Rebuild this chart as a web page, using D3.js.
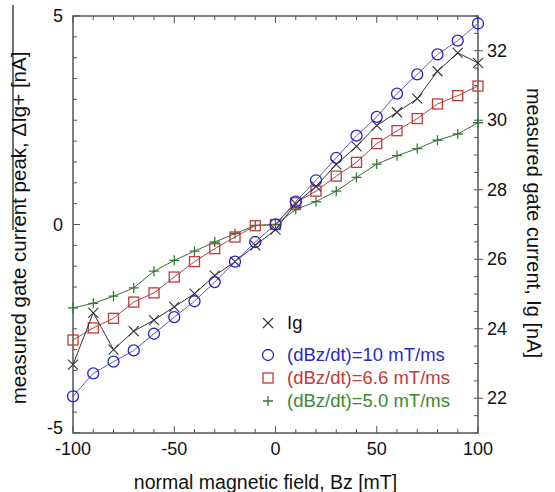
<!DOCTYPE html>
<head>
    <meta charset="utf-8">
    <title>Gate current vs Bz</title>
    <style>
        body { margin: 0; background: #fff; }
        text { font-family: "Liberation Sans", Arial, sans-serif; }
    </style>
</head>
<body>
<div id="chart"></div>
<script src="https://d3js.org/d3.v7.min.js"></script>
<script>

// values
var bz = [-100, -90, -80, -70, -60, -50, -40, -30, -20, -10, 0, 10, 20, 30, 40, 50, 60, 70, 80, 90, 100];
var peak10 = [-4.12, -3.57, -3.29, -3.02, -2.62, -2.22, -1.84, -1.38, -0.89, -0.42, 0, 0.55, 1.06, 1.60, 2.13, 2.58, 3.14, 3.60, 4.08, 4.41, 4.82];
var peak66 = [-2.77, -2.48, -2.25, -1.86, -1.64, -1.26, -0.89, -0.58, -0.30, -0.03, 0, 0.52, 0.80, 1.16, 1.49, 1.94, 2.25, 2.54, 2.89, 3.09, 3.32];
var peak50 = [-2.00, -1.89, -1.72, -1.52, -1.12, -0.86, -0.64, -0.42, -0.22, -0.02, 0, 0.36, 0.55, 0.80, 1.13, 1.45, 1.65, 1.82, 2.02, 2.17, 2.44];
var ig = [22.97, 24.46, 23.40, 23.93, 24.25, 24.63, 25.01, 25.53, 25.93, 26.40, 26.85, 27.60, 28.10, 28.73, 29.25, 29.85, 30.23, 30.62, 31.41, 31.94, 31.65];

var xTicks = [-100, -50, 0, 50, 100];
var leftTicks = [-5, 0, 5];
var rightTicks = [22, 24, 26, 28, 30, 32];

var legendLabels = ["Ig", "(dBz/dt)=10 mT/ms", "(dBz/dt)=6.6 mT/ms", "(dBz/dt)=5.0 mT/ms"];

var width = 555, height = 492;
var plot = {left: 73, right: 478, top: 16, bottom: 433};

var svg = d3.select("#chart").append("svg")
    .attr("width", width)
    .attr("height", height);

var x = d3.scaleLinear().domain([-100, 100]).range([plot.left, plot.right]);
var yL = d3.scaleLinear().domain([-5, 5]).range([plot.bottom, plot.top]);
var yR = d3.scaleLinear().domain([21, 33]).range([plot.bottom, plot.top]);

var axisColor = "#555";

// frame
svg.append("rect")
    .attr("x", plot.left).attr("y", plot.top)
    .attr("width", plot.right - plot.left).attr("height", plot.bottom - plot.top)
    .attr("fill", "none").attr("stroke", axisColor).attr("stroke-width", 1.5);

// ticks pointing inward, drawn by hand on the frame
var g = svg.append("g").attr("stroke", axisColor).attr("stroke-width", 1);

d3.range(-100, 101, 10).forEach(function(v) {
    var len = (v % 50 === 0) ? 7 : 4;
    g.append("line").attr("x1", x(v)).attr("x2", x(v)).attr("y1", plot.bottom).attr("y2", plot.bottom - len);
    g.append("line").attr("x1", x(v)).attr("x2", x(v)).attr("y1", plot.top).attr("y2", plot.top + len);
});
d3.range(-5, 5.01, 0.5).forEach(function(v) {
    var len = (Math.abs(v % 5) < 1e-6) ? 7 : 4;
    g.append("line").attr("x1", plot.left).attr("x2", plot.left + len).attr("y1", yL(v)).attr("y2", yL(v));
});
d3.range(21, 33.01, 0.5).forEach(function(v) {
    var major = Math.abs(v % 2) < 1e-6;
    g.append("line").attr("x1", plot.right - 4).attr("x2", plot.right + (major ? 5 : 0)).attr("y1", yR(v)).attr("y2", yR(v));
});

// tick labels
var lab = svg.append("g").attr("font-size", 18).attr("fill", "#111");
xTicks.forEach(function(v) {
    lab.append("text").attr("x", x(v)).attr("y", 455).attr("text-anchor", "middle").text(v);
});
leftTicks.forEach(function(v) {
    lab.append("text").attr("x", 63).attr("y", yL(v) + (v === -5 ? 1 : 6))
        .attr("text-anchor", "end").text(v);
});
rightTicks.forEach(function(v) {
    lab.append("text").attr("x", 487).attr("y", yR(v) + 6).text(v);
});

// axis titles
svg.append("text")
    .attr("x", x(0) - 10).attr("y", 489)
    .attr("text-anchor", "middle").attr("font-size", 19.5).attr("fill", "#111")
    .text("normal magnetic field, Bz [mT]");

svg.append("text")
    .attr("transform", "translate(26,228) rotate(-90)")
    .attr("text-anchor", "middle").attr("font-size", 20.5).attr("fill", "#111")
    .text("measured gate current peak, \u0394Ig+ [nA]");
svg.append("line")
    .attr("x1", 13).attr("x2", 13).attr("y1", 5).attr("y2", 230)
    .attr("stroke", "#111").attr("stroke-width", 1.2);

svg.append("text")
    .attr("transform", "translate(527,223) rotate(90)")
    .attr("text-anchor", "middle").attr("font-size", 20).attr("fill", "#111")
    .text("measured gate current, Ig [nA]");

// series
var series = [
    {vals: peak50, y: yL, line: "#3d6b3d", mark: "#2e7d2e", shape: "plus"},
    {vals: peak66, y: yL, line: "#a04848", mark: "#c0393b", shape: "square"},
    {vals: ig, y: yR, line: "#333", mark: "#333", shape: "cross"},
    {vals: peak10, y: yL, line: "#6060a8", mark: "#2424c8", shape: "circle"}
];

function drawMark(sel, shape, color, cx, cy) {
    if (shape === "circle") {
        sel.append("circle").attr("cx", cx).attr("cy", cy).attr("r", 5.5)
            .attr("fill", "none").attr("stroke", color).attr("stroke-width", 1.3);
    } else if (shape === "square") {
        sel.append("rect").attr("x", cx - 5).attr("y", cy - 5).attr("width", 10).attr("height", 10)
            .attr("fill", "none").attr("stroke", color).attr("stroke-width", 1.3);
    } else if (shape === "plus") {
        sel.append("path").attr("d", "M" + (cx - 5) + "," + cy + "h10M" + cx + "," + (cy - 5) + "v10")
            .attr("stroke", color).attr("stroke-width", 1.3);
    } else {
        sel.append("path").attr("d", "M" + (cx - 5) + "," + (cy - 5) + "l10,10M" + (cx - 5) + "," + (cy + 5) + "l10,-10")
            .attr("stroke", color).attr("stroke-width", 1.1);
    }
}

series.forEach(function(s) {
    var line = d3.line()
        .x(function(d, i) { return x(bz[i]); })
        .y(function(d) { return s.y(d); });
    svg.append("path").datum(s.vals)
        .attr("d", line).attr("fill", "none")
        .attr("stroke", s.line).attr("stroke-width", 1);
    var mg = svg.append("g");
    s.vals.forEach(function(v, i) { drawMark(mg, s.shape, s.mark, x(bz[i]), s.y(v)); });
});

// legend
var legend = [
    {shape: "cross", color: "#333", text: "#111"},
    {shape: "circle", color: "#2424c8", text: "#2a2ac0"},
    {shape: "square", color: "#c0393b", text: "#c0393b"},
    {shape: "plus", color: "#2e7d2e", text: "#3a8a30"}
];
var legY = [323, 355, 378, 401];
var lg = svg.append("g");
legend.forEach(function(d, i) {
    drawMark(lg, d.shape, d.color, 268, legY[i]);
    lg.append("text").attr("x", 287).attr("y", legY[i] + 6)
        .attr("font-size", 18.5).attr("fill", d.text).text(legendLabels[i]);
});

</script>
</body>
</html>
